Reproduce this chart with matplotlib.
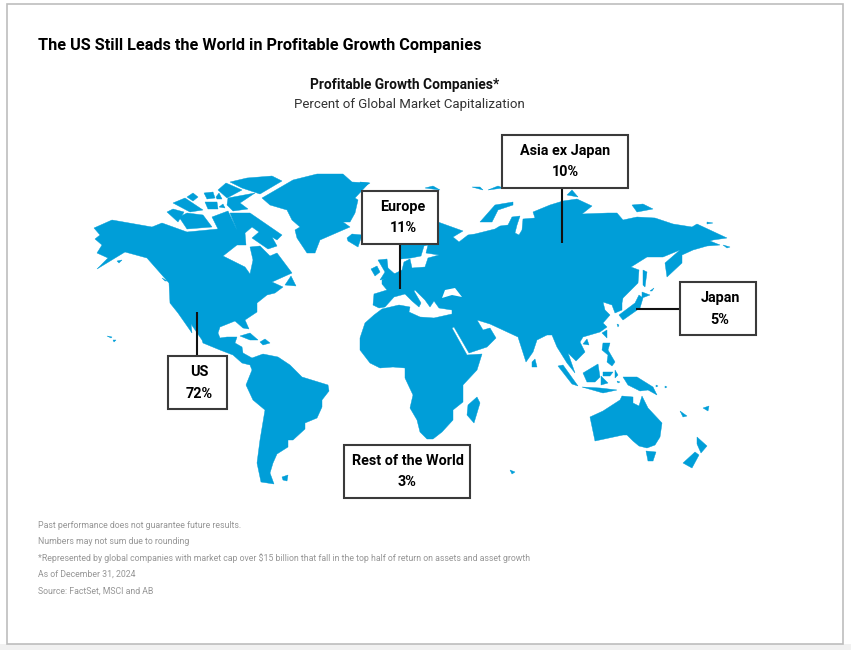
import matplotlib
matplotlib.use('Agg')
import matplotlib.pyplot as plt
from matplotlib.patches import Polygon, Rectangle

BLUE = '#009ed8'
EDGE = '#3a3a3a'

# landmass outlines in pixels
AMERICAS = [(94,228),(112,220),(152,227),(162,223),(187,232),(218,229),(212,217),(228,211),(237,230),(230,213),
            (250,213),(282,235),(277,240),(272,237),(277,246),(268,249),(252,238),(259,232),(252,227),(245,233),
            (246,245),(237,245),(223,256),(245,267),(250,274),(253,260),(250,247),(260,246),(270,256),(277,253),
            (292,273),(272,282),(283,287),(275,293),(267,295),(257,303),(257,312),(245,320),(249,329),(243,328),
            (235,321),(220,327),(218,333),(220,338),(227,337),(237,337),(235,343),(242,347),(243,353),(252,358),
            (263,354),(278,357),(290,365),(302,377),(328,385),(329,391),(322,400),(322,407),(317,418),(305,423),
            (305,429),(293,440),(288,440),(288,447),(277,454),(273,463),(270,473),(274,484),(261,482),(257,463),
            (260,440),(265,410),(253,400),(246,385),(252,370),(250,365),(242,363),(233,355),(220,350),(203,343),
            (202,340),(191,324),(192,333),(178,313),(170,303),(169,283),(147,258),(125,252),(97,269),(108,258),
            (97,253),(102,245),(95,239),(100,235)]
EURASIA_AFRICA = [(401,245),(401,225),(438,222),(463,231),(453,237),(459,242),(468,235),(475,234),(495,229),(500,226),
                  (508,225),(512,217),(520,216),(517,225),(515,233),(519,235),(522,230),(523,219),(535,218),(533,212),
                  (550,205),(563,201),(577,199),(592,206),(582,214),(608,213),(617,213),(623,220),(637,217),(655,218),
                  (673,224),(692,227),(697,224),(727,238),(713,240),(710,241),(720,245),(707,246),(693,250),(682,255),
                  (682,263),(667,277),(665,263),(680,250),(663,257),(647,257),(631,267),(639,270),(638,283),(623,298),
                  (622,303),(622,310),(615,313),(612,305),(603,302),(605,310),(610,315),(603,323),(607,327),(600,332),
                  (583,337),(580,342),(585,352),(576,361),(568,353),(575,373),(567,363),(557,347),(552,335),(547,335),
                  (537,340),(533,352),(526,362),(518,337),(490,324),(477,320),(483,330),(490,328),(496,338),(487,347),
                  (469,353),(454,327),(452,328),(467,355),(482,354),(477,370),(463,385),(463,402),(453,410),(453,420),
                  (442,432),(433,439),(427,439),(420,432),(417,420),(410,408),(413,395),(405,378),(405,368),(393,367),
                  (380,368),(370,363),(360,350),(360,338),(365,323),(374,315),(382,309),(399,305),(410,307),(409,312),
                  (420,317),(434,318),(452,314),(452,310),(439,308),(434,301),(430,307),(425,300),(415,290),(414,291),
                  (421,303),(419,307),(412,301),(405,294),(394,297),(385,307),(379,308),(373,305),(374,294),(387,290),
                  (382,284),(382,280),(402,270),(404,262),(410,259),(412,268),(425,267),(428,258),(439,255),(426,253),
                  (428,245),(424,246),(421,256),(411,258),(401,259)]
BLACK_SEA = [(442,298),(445,290),(455,288),(462,297),(452,295)]
ISLANDS = [
    [(167,212),(173,209),(184,212),(178,222)],
    [(179,217),(187,213),(203,215),(212,227),(187,229)],
    [(173,203),(185,198),(203,210),(190,212)],
    [(187,197),(193,193),(198,197),(193,201)],
    [(204,193),(213,192),(215,198),(207,199)],
    [(205,202),(217,202),(218,209),(208,209)],
    [(216,197),(219,193),(222,199),(217,199)],
    [(219,207),(223,204),(225,208)],
    [(218,190),(226,183),(242,190),(227,198)],
    [(228,198),(255,193),(240,203),(248,209),(233,211),(227,205)],
    [(230,182),(247,178),(272,176),(282,181),(260,194),(242,188)],
    [(262,198),(293,180),(317,174),(343,174),(352,182),(369,183),(355,198),(358,200),(355,213),(350,222),(343,222),
     (350,227),(343,230),(320,240),(315,253),(307,253),(297,238),(295,230),(300,227),(292,220),(287,210),(270,205)],
    [(291,276),(296,286),(285,285)],
    [(347,238),(352,234),(362,235),(358,247),(348,241)],
    [(117,261),(122,260),(119,263)],
    [(162,278),(167,281),(165,281)],
    [(107,336),(112,337),(111,338)],
    [(113,340),(116,340),(114,342)],
    [(240,336),(250,333),(258,340),(250,340)],
    [(260,342),(265,339),(270,343),(263,345)],
    [(282,477),(288,475),(287,481),(283,480)],
    [(467,415),(468,405),(477,397),(480,403),(474,423)],
    [(510,470),(515,472),(512,474)],
    [(378,260),(387,259),(388,268),(397,276),(380,280),(385,272)],
    [(371,269),(377,266),(380,272),(375,276)],
    [(480,222),(495,205),(513,202),(513,205),(498,210),(492,222)],
    [(567,195),(572,190),(578,197)],
    [(472,187),(480,187),(483,190)],
    [(488,190),(498,186),(503,188)],
    [(425,188),(433,186),(440,190)],
    [(360,182),(370,183),(362,188)],
    [(632,205),(643,204),(653,209),(637,212)],
    [(707,222),(713,223),(707,224)],
    [(723,245),(730,247),(727,248)],
    [(642,292),(650,295),(642,298)],
    [(619,315),(635,303),(639,295),(643,298),(640,308),(623,320)],
    [(617,324),(619,325),(618,327)],
    [(643,270),(647,272),(645,287),(643,285)],
    [(650,291),(654,288),(652,291)],
    [(558,366),(563,365),(578,386),(572,384)],
    [(582,387),(600,388),(617,390),(603,393)],
    [(583,373),(598,364),(600,377),(595,382),(587,382)],
    [(603,372),(613,372),(610,376),(603,376)],
    [(601,376),(608,383),(601,385)],
    [(615,370),(618,375),(615,378)],
    [(603,343),(610,343),(608,350),(615,362),(612,366),(607,362),(608,355),(602,350)],
    [(602,333),(607,330),(607,338)],
    [(583,344),(587,339),(589,345)],
    [(532,362),(535,359),(537,367),(532,367)],
    [(623,377),(630,377),(637,377),(653,387),(657,395),(648,390),(640,391),(628,385)],
    [(656,385),(658,386),(656,387)],
    [(665,386),(667,387),(665,388)],
    [(617,381),(620,382),(618,383)],
    [(590,417),(603,411),(620,400),(622,396),(633,397),(633,403),(639,406),(642,396),(648,408),(662,423),(660,437),
     (655,445),(647,448),(639,446),(633,441),(627,435),(623,435),(595,441)],
    [(646,451),(656,452),(653,461),(648,461)],
    [(697,437),(707,446),(701,453),(697,444)],
    [(695,452),(699,455),(692,468),(683,463)],
    [(680,411),(687,416),(683,417)],
    [(703,408),(709,406),(708,411)],
]

# labels and their values
REGIONS = ['Asia ex Japan', 'Europe', 'Japan', 'US', 'Rest of the World']
SHARES = [10, 11, 5, 72, 3]
BOXES = [(502,135,126,53), (362,191,76,53), (680,282,76,53), (168,356,59,53), (344,445,126,53)]
TEXT_X = [565, 403, 720, 199.5, 407.5]
LEADERS = [((562,562),(188,243)), ((400,400),(244,289)), ((680,636),(309,309)), ((197,197),(356,312))]
NOTES = ['Past performance does not guarantee future results.',
         'Numbers may not sum due to rounding',
         '*Represented by global companies with market cap over $15 billion that fall in the top half of return on assets and asset growth',
         'As of December 31, 2024',
         'Source: FactSet, MSCI and AB']
NOTE_Y = [525, 541, 558, 574, 591]

plt.rcParams['font.family'] = ['Roboto', 'DejaVu Sans']

fig = plt.figure(figsize=(8.51, 6.5), dpi=100)
ax = fig.add_axes([0, 0, 1, 1])
ax.set_xlim(0, 851)
ax.set_ylim(650, 0)
ax.axis('off')

# page frame and the faint shade under it
ax.add_patch(Rectangle((0, 644), 851, 6, fc='#f1f1f1', ec='none'))
ax.add_patch(Rectangle((7, 4), 836, 640, fc='white', ec='#bdbdbd', lw=1.2))

for shape in [AMERICAS, EURASIA_AFRICA] + ISLANDS:
    ax.add_patch(Polygon(shape, closed=True, fc=BLUE, ec=BLUE, lw=0.3))
ax.add_patch(Polygon(BLACK_SEA, closed=True, fc='white', ec='none'))

for xs, ys in LEADERS:
    ax.plot(xs, ys, color='#111111', lw=1.5, solid_capstyle='butt')

for name, share, (x, y, w, h), cx in zip(REGIONS, SHARES, BOXES, TEXT_X):
    ax.add_patch(Rectangle((x, y), w, h, fc='white', ec=EDGE, lw=1.5, zorder=3))
    ax.text(cx, y + 16, name, ha='center', va='center', fontsize=10.4, fontweight='bold', color='black', zorder=4)
    ax.text(cx, y + 37.5, f'{share}%', ha='center', va='center', fontsize=10.4, fontweight='bold', color='black', zorder=4)

ax.text(38, 45.5, 'The US Still Leads the World in Profitable Growth Companies', ha='left', va='center',
        fontsize=11.7, fontweight='bold', color='black')
ax.text(405, 85, 'Profitable Growth Companies*', ha='center', va='center', fontsize=9.9, fontweight='bold', color='#111111')
ax.text(409, 104.5, 'Percent of Global Market Capitalization', ha='center', va='center', fontsize=9.55, color='#333333')

for note, y in zip(NOTES, NOTE_Y):
    ax.text(38, y, note, ha='left', va='center', fontsize=6.3, color='#969696')

fig.savefig('out.png', dpi=100)
